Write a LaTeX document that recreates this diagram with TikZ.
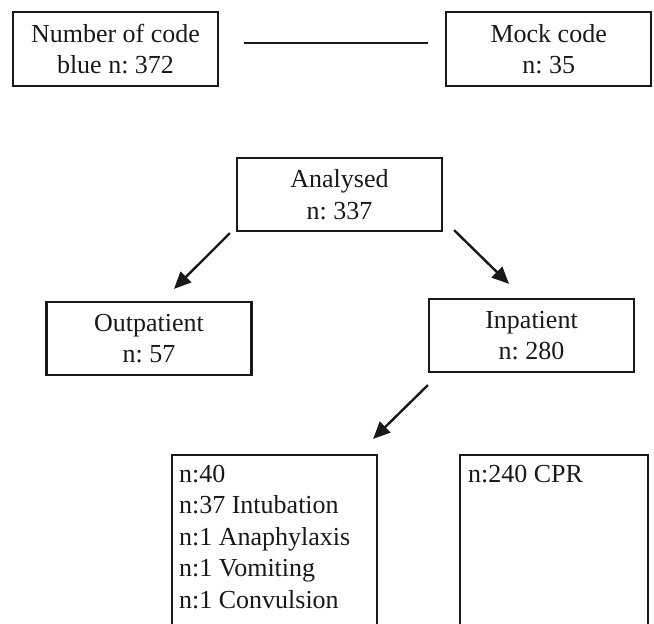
\documentclass[tikz,border=0pt]{standalone}
\usepackage{fontspec}
\setmainfont{Liberation Serif}
\usetikzlibrary{arrows.meta, positioning}

\begin{document}
\frenchspacing
\begin{tikzpicture}[
    x=1pt, y=-1pt,
    >=Stealth,
    every node/.style={text=black!90},
    box/.style={rectangle, draw=black!90, line width=2.2pt, minimum width=205pt, minimum height=74pt, align=center, inner sep=0pt, font=\fontsize{26}{31.5}\selectfont},
    openbox/.style={rectangle, draw=black!90, line width=2.2pt, minimum height=200pt, inner sep=0pt},
    list/.style={inner sep=0pt, align=left, font=\fontsize{26}{31.5}\selectfont},
    arrow/.style={-{Triangle[length=17pt, width=15pt]}, line width=2.4pt, draw=black!90},
    joinline/.style={line width=2.4pt, draw=black!90},
]

% === Frame ===
\useasboundingbox (0,0) rectangle (654,624);
\clip (0,0) rectangle (654,624);

% === Code blue counts ===
\node (num) [box] at (115.5,49) {Number of code\\blue n: 372};
\node (mock) [box, right=226pt of num] {Mock code\\n: 35};
\draw[joinline, shorten <=25pt, shorten >=17pt] ([yshift=6pt]num.east) -- ([yshift=6pt]mock.west);

% === Analysed ===
\node (analysed) [box, minimum height=73pt] at (339.5,194.5) {Analysed\\n: 337};

% === Out / In ===
\node (outpat) [box, minimum height=73pt] at (149,338.5) {Outpatient\\n: 57};
\node (inpat) [box, minimum height=73pt] at (531.5,335.5) {Inpatient\\n: 280};

% === Events (boxes run off the page) ===
\node (events) [openbox, minimum width=205pt] at (274.5,555) {};
\node (cpr) [openbox, minimum width=188pt] at (554,555) {};

\node (eventslist) [list, below right=11pt and 8pt of events.north west]
    {n:40\\n:37 Intubation\\n:1 Anaphylaxis\\n:1 Vomiting\\n:1 Convulsion};
\node (cprlist) [list, below right=11pt and 9pt of cpr.north west] {n:240 CPR};

% === Arrows ===
\draw[arrow] ([xshift=-6pt,yshift=-1pt]analysed.south west) -- ([xshift=25pt,yshift=12pt]outpat.north);
\draw[arrow] ([xshift=11pt,yshift=2pt]analysed.south east) -- ([xshift=-22.5pt,yshift=14pt]inpat.north);
\draw[arrow] ([yshift=-12pt]inpat.south west) -- ([xshift=-5pt,yshift=15pt]events.north east);

\end{tikzpicture}
\end{document}
